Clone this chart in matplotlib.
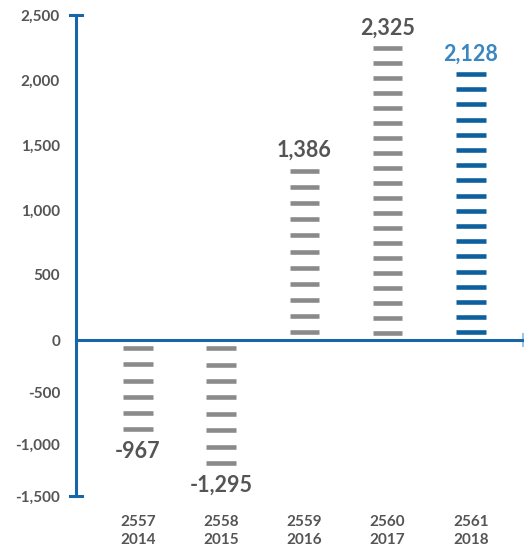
import numpy as np
import matplotlib
matplotlib.use("Agg")
import matplotlib.pyplot as plt
from matplotlib.ticker import FixedLocator, FixedFormatter

# ---- data ----
years_be = ["2557", "2558", "2559", "2560", "2561"]
years_ce = ["2014", "2015", "2016", "2017", "2018"]
values = [-967, -1295, 1386, 2325, 2128]
dash_counts = [6, 8, 11, 20, 18]
y_ticks = [-1500, -1000, -500, 0, 500, 1000, 1500, 2000, 2500]

# ---- style ----
AXIS_BLUE = "#1666a8"
TICK_BLUE = "#9fc4e2"
GRAY_DASH = "#8a8a8a"
BLUE_DASH = "#0d5f9e"
TEXT_GRAY = "#555555"
LABEL_BLUE = "#3a86c0"
NEG_RATIO = 0.8

plt.rcParams["font.family"] = ["Lato", "DejaVu Sans"]

fig = plt.figure(figsize=(5.24, 5.53), dpi=100)
ax = fig.add_axes([76 / 524, 57 / 553, 447 / 524, 481 / 553])


def fwd(y):
    y = np.asarray(y, dtype=float)
    return np.where(y < 0, y * NEG_RATIO, y)


def inv(y):
    y = np.asarray(y, dtype=float)
    return np.where(y < 0, y / NEG_RATIO, y)


ax.set_yscale("function", functions=(fwd, inv))
ax.set_ylim(-1500, 2500)
ax.set_xlim(-0.745, 4.628)

x = np.arange(len(values))
dash_w = 0.355
for i, (v, n) in enumerate(zip(values, dash_counts)):
    color = BLUE_DASH if i == len(values) - 1 else GRAY_DASH
    ys = (np.arange(n) + 0.5) / (n + 0.2) * v
    ax.hlines(ys, x[i] - dash_w / 2, x[i] + dash_w / 2, colors=color,
              linewidth=3.3, capstyle="butt", zorder=3)
    lab_color = LABEL_BLUE if i == len(values) - 1 else TEXT_GRAY
    txt = f"{v:,}"
    if v >= 0:
        ax.annotate(txt, (x[i], v), xytext=(0, 2), textcoords="offset points",
                    ha="center", va="baseline", fontsize=15.5, fontweight="bold",
                    color=lab_color, annotation_clip=False)
    else:
        ax.annotate(txt, (x[i], v), xytext=(0, 0), textcoords="offset points",
                    ha="center", va="top", fontsize=15.5, fontweight="bold",
                    color=lab_color, annotation_clip=False)

# spines
for s in ["top", "right", "bottom"]:
    ax.spines[s].set_visible(False)
ax.spines["left"].set_color(AXIS_BLUE)
ax.spines["left"].set_linewidth(2.2)
ax.spines["left"].set_zorder(4)

# x axis line at zero with end cap
ax.axhline(0, xmin=0, xmax=1, color=AXIS_BLUE, linewidth=2.2, zorder=4, clip_on=False)
zero_frac = 1200 / 3700
ax.axvline(ax.get_xlim()[1], ymin=zero_frac - 0.0125, ymax=zero_frac + 0.0125,
           color=TICK_BLUE, linewidth=1.5, clip_on=False)

# y-axis end caps
for yv in (y_ticks[0], y_ticks[-1]):
    ax.axhline(yv, xmin=-0.0134, xmax=0.0134, color=AXIS_BLUE, linewidth=2.2,
               clip_on=False, zorder=5)

# y ticks
ax.yaxis.set_major_locator(FixedLocator(y_ticks))
ax.yaxis.set_major_formatter(FixedFormatter([f"{t:,}" for t in y_ticks]))
ax.yaxis.set_minor_locator(FixedLocator([t for t in y_ticks if t not in (0, y_ticks[0], y_ticks[-1])]))
ax.tick_params(axis="y", which="major", length=0, pad=11.5, labelsize=11,
               labelcolor=TEXT_GRAY)
ax.tick_params(axis="y", which="minor", direction="inout", length=13, width=2.0,
               color=TICK_BLUE)
for lab in ax.get_yticklabels():
    lab.set_fontweight("bold")

# x ticks
ax.set_xticks(x)
ax.set_xticklabels([f"{a}\n{b}" for a, b in zip(years_be, years_ce)])
ax.tick_params(axis="x", length=0, pad=14, labelsize=11, labelcolor=TEXT_GRAY)
for lab in ax.get_xticklabels():
    lab.set_fontweight("bold")
    lab.set_linespacing(1.3)

fig.savefig("out.png", dpi=100)
